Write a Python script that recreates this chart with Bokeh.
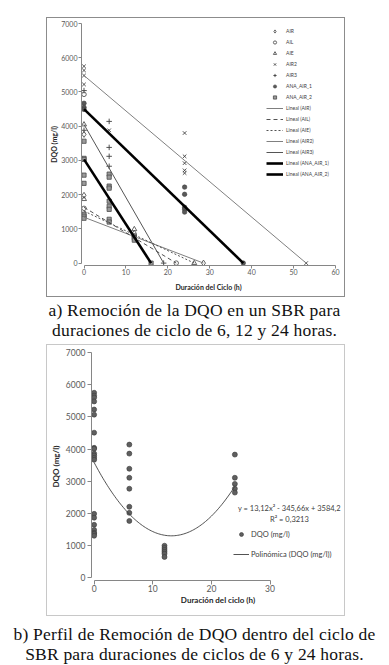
import numpy as np
from bokeh.plotting import figure
from bokeh.models import Legend, LegendItem, Label, Div, Range1d
from bokeh.layouts import column
from bokeh.embed import file_html
from bokeh.resources import INLINE

# ---------------- Chart a) data ----------------
air_x = [0, 0, 12, 28.5]
air_y = [3760, 1980, 870, 0]
ail_x = [0, 0, 12, 22]
ail_y = [4930, 1600, 790, 0]
aie_x = [0, 0, 12, 26.3]
aie_y = [4050, 1870, 990, 0]
air2_x = [0, 0, 0, 0, 6, 24, 24, 24, 24, 24, 53]
air2_y = [5750, 5630, 5480, 5220, 3880, 3800, 3120, 2920, 2710, 2630, 0]
air3_x = [0, 0, 6, 6, 6, 6, 19]
air3_y = [5040, 3880, 4140, 3380, 3120, 2830, 0]
ana1_x = [0, 0, 0, 24, 24, 24, 24, 24, 38]
ana1_y = [4670, 4550, 4490, 2220, 2010, 1630, 1570, 1490, 0]
ana2_x = [0, 0, 0, 0, 0, 0, 0, 0, 6, 6, 6, 6, 6, 6, 6, 6, 6, 12, 12, 12, 16]
ana2_y = [3560, 3060, 3030, 2570, 2330, 1430, 1370, 1310,
          2600, 2510, 2250, 2190, 1810, 1660, 1570, 1280, 1200,
          790, 730, 670, 0]

series_names = ["AIR", "AIL", "AIE", "AIR2", "AIR3", "ANA_AIR_1", "ANA_AIR_2"]

# linear trendlines: value at t=0 and t where DQO reaches 0
trend_names = ["Lineal (AIR)", "Lineal (AIL)", "Lineal (AIE)", "Lineal (AIR2)",
               "Lineal (AIR3)", "Lineal (ANA_AIR_1)", "Lineal (ANA_AIR_2)"]
trend_y0 = [1340, 1630, 1520, 5480, 4050, 4500, 3030]
trend_xend = [28.5, 22, 26.3, 53, 19, 38, 16]

xa_ticks = [0, 10, 20, 30, 40, 50, 60]
ya_ticks = [0, 1000, 2000, 3000, 4000, 5000, 6000, 7000]

# ---------------- Chart b) data ----------------
dqo_x = [0] * 20 + [6] * 8 + [12] * 6 + [24] * 5
dqo_y = [5750, 5660, 5600, 5480, 5230, 5070, 4510, 4040, 4010, 3860, 3800, 3730, 3670,
         1990, 1870, 1650, 1490, 1400, 1370, 1310,
         4140, 3860, 3390, 3110, 2770, 2210, 2020, 1770,
         1000, 930, 870, 810, 750, 650,
         3830, 3110, 2920, 2770, 2650]
poly_coef = [13.12, -345.66, 3584.2]   # y = a x^2 + b x + c (shown on chart)
poly_eq = "y = 13,12x² - 345,66x + 3584,2"
poly_r2 = "R² = 0,3213"
xb_ticks = [0, 10, 20, 30]
yb_ticks = [0, 1000, 2000, 3000, 4000, 5000, 6000, 7000]

AX = "#868686"
TXT = "#595959"
FONT = "Lato"


def style_axes(p, fs, tfs, x_std, x_lab_std, y_std, y_lab_std, tick_out):
    for ax in (p.xaxis[0], p.yaxis[0]):
        ax.axis_line_color = AX
        ax.major_tick_line_color = AX
        ax.minor_tick_line_color = None
        ax.major_tick_out = tick_out
        ax.major_tick_in = 0
        ax.major_label_text_font = FONT
        ax.major_label_text_font_size = fs
        ax.major_label_text_color = TXT
        ax.axis_label_text_font = FONT
        ax.axis_label_text_font_size = tfs
        ax.axis_label_text_font_style = "bold"
        ax.axis_label_text_color = "#262626"
    p.xaxis[0].major_label_standoff = x_std
    p.xaxis[0].axis_label_standoff = x_lab_std
    p.yaxis[0].major_label_standoff = y_std
    p.yaxis[0].axis_label_standoff = y_lab_std
    p.xgrid.visible = False
    p.ygrid.visible = False


# ---------------- Figure a ----------------
p1 = figure(width=299, height=280, x_range=Range1d(-0.6, 60), y_range=Range1d(-70, 7000),
            output_backend="svg", toolbar_location=None, frame_align=False,
            min_border_left=33, min_border_right=11, min_border_top=5, min_border_bottom=33,
            outline_line_color=None, margin=(17, 0, 0, 46),
            styles={"border": "1px solid #8c8c8c"})
p1.xaxis.ticker = xa_ticks
p1.yaxis.ticker = ya_ticks
p1.xaxis.axis_label = "Duración del Ciclo (h)"
p1.yaxis.axis_label = "DQO (mg/l)"
style_axes(p1, "7px", "7px", 0, 5, 1, 0, 3)
p1.xaxis.bounds = (0, 60)
p1.yaxis.bounds = (0, 7000)

MK = "#3f3f3f"
r_air = p1.scatter(air_x, air_y, marker="diamond", size=6, line_color=MK, fill_color=None, line_width=0.8)
r_ail = p1.scatter(ail_x, ail_y, marker="circle", size=4.5, line_color=MK, fill_color=None, line_width=0.8)
r_aie = p1.scatter(aie_x, aie_y, marker="triangle", size=5, line_color=MK, fill_color=None, line_width=0.8)
r_air2 = p1.scatter(air2_x, air2_y, marker="x", size=5, line_color=MK, line_width=0.9)
r_air3 = p1.scatter(air3_x, air3_y, marker="cross", size=5.5, line_color=MK, line_width=0.9)
r_ana1 = p1.scatter(ana1_x, ana1_y, marker="circle", size=4.5, line_color=MK, fill_color="#595959", line_width=0.6)
r_ana2 = p1.scatter(ana2_x, ana2_y, marker="square", size=4.2, line_color="#4a4a4a", fill_color="#9a9a9a", line_width=0.8)
marker_rs = [r_air, r_ail, r_aie, r_air2, r_air3, r_ana1, r_ana2]

trend_styles = [
    dict(line_color="#7f7f7f", line_width=1),
    dict(line_color="#404040", line_width=0.9, line_dash="4 3"),
    dict(line_color="#404040", line_width=0.9, line_dash="2 2"),
    dict(line_color="#808080", line_width=1),
    dict(line_color="#555555", line_width=1),
    dict(line_color="#000000", line_width=2.6),
    dict(line_color="#000000", line_width=2.6),
]
trend_rs = []
for y0, xe, st in zip(trend_y0, trend_xend, trend_styles):
    trend_rs.append(p1.line([0, xe], [y0, 0], **st))

items1 = [LegendItem(label=n, renderers=[r]) for n, r in zip(series_names, marker_rs)]
items1 += [LegendItem(label=n, renderers=[r]) for n, r in zip(trend_names, trend_rs)]
leg1 = Legend(items=items1, location=(185, 87), label_text_font=FONT, label_text_font_size="5px",
              label_text_color="#404040", glyph_width=17, glyph_height=8, label_height=8,
              spacing=3, padding=0, margin=0, border_line_color=None,
              background_fill_alpha=0, label_standoff=3)
p1.add_layout(leg1)

# ---------------- Figure b ----------------
p2 = figure(width=299, height=272, x_range=Range1d(-0.45, 42.7), y_range=Range1d(-80, 7000),
            output_backend="svg", toolbar_location=None, frame_align=False,
            min_border_left=42, min_border_right=2, min_border_top=7, min_border_bottom=37,
            outline_line_color=None, margin=(0, 0, 0, 46),
            styles={"border": "1px solid #c8c8c8"})
p2.xaxis.ticker = xb_ticks
p2.yaxis.ticker = yb_ticks
p2.xaxis.bounds = (0, 30)
p2.yaxis.bounds = (0, 7000)
p2.xaxis.axis_label = "Duración del ciclo (h)"
p2.yaxis.axis_label = "DQO (mg/l)"
style_axes(p2, "8.5px", "8px", 0, 0, 2, 2, 4)

r_dqo = p2.scatter(dqo_x, dqo_y, marker="circle", size=5, line_color="#3a3a3a",
                   fill_color="#5f5f5f", line_width=0.6)
t = np.linspace(0, 24, 97)
curve = poly_coef[0] * t ** 2 + poly_coef[1] * t + poly_coef[2]
r_poly = p2.line(t, curve, line_color="#404040", line_width=0.9)

p2.add_layout(Label(x=33.3, y=2150, text=poly_eq, text_font=FONT, text_font_size="7.5px",
                    text_color="#404040", text_align="center", text_baseline="middle"))
p2.add_layout(Label(x=33.3, y=1810, text=poly_r2, text_font=FONT, text_font_size="7.5px",
                    text_color="#404040", text_align="center", text_baseline="middle"))

leg2 = Legend(items=[LegendItem(label="DQO (mg/l)", renderers=[r_dqo]),
                     LegendItem(label="Polinómica (DQO (mg/l))", renderers=[r_poly])],
              location=(142, 21), label_text_font=FONT, label_text_font_size="7.5px",
              label_text_color="#404040", glyph_width=16, glyph_height=10, label_height=10,
              spacing=10, padding=0, margin=0, border_line_color=None,
              background_fill_alpha=0, label_standoff=2)
p2.add_layout(leg2)

CAP = ("font-family:'Liberation Serif','DejaVu Serif',serif;font-size:17.5px;letter-spacing:0.2px;"
       "line-height:19.5px;text-align:center;color:#111;width:389px;")
cap1 = Div(text=f'<div style="{CAP}padding-top:4px;">a) Remoción de la DQO en un SBR para<br>'
                'duraciones de ciclo de 6, 12 y 24 horas.</div>', width=389, height=47, margin=0)
cap2 = Div(text=f'<div style="{CAP}padding-top:9px;">b) Perfil de Remoción de DQO dentro del ciclo de<br>'
                'SBR para duraciones de ciclos de 6 y 24 horas.</div>', width=389, height=48, margin=0)

layout = column(p1, cap1, p2, cap2, spacing=0, margin=0)

open("out.html", "w").write(file_html(layout, INLINE))
